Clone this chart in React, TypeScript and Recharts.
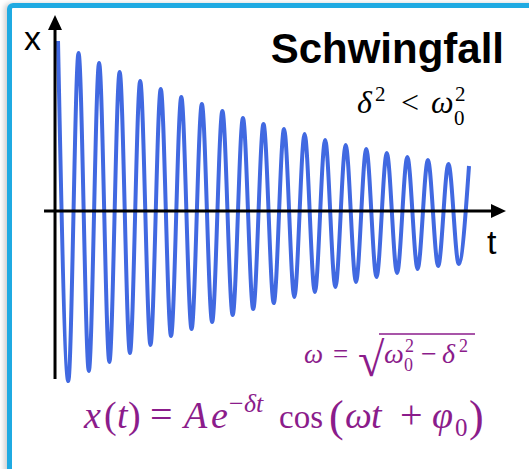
import React from "react";
import { LineChart, Line, XAxis, YAxis, ReferenceLine } from "recharts";

// extrema of the damped oscillation, one value per half period
const peaks = [170, 158, 148, 139, 130, 122, 114, 107, 100, 93, 87, 82, 77, 71, 66, 62, 58, 54, 51, 47, 45];
const troughs = [-170, -160, -151, -142, -134, -125, -118, -111, -104, -98, -92, -86, -81, -76, -71, -66, -62, -58, -55, -53];

const axisTitles = ["x", "t"];
const title = "Schwingfall";

const data = peaks
  .flatMap((p, i) => (i < troughs.length ? [p, troughs[i]] : [p]))
  .map((x, t) => ({ t, x }));

const PURPLE = "#8B1C8B";
const SERIF = "'Liberation Serif', 'Times New Roman', serif";
const SANS = "'Liberation Sans', Arial, sans-serif";

export default function App() {
  return (
    <div
      style={{
        position: "absolute",
        left: 0,
        top: 0,
        width: 529,
        height: 469,
        background: "#fff",
        overflow: "hidden",
      }}
    >
      <div
        style={{
          position: "absolute",
          left: 7,
          top: 3,
          width: 560,
          height: 500,
          border: "5px solid #1FAAE2",
          borderRadius: 6,
          boxShadow: "-3px 0 5px rgba(0,0,0,0.18)",
          boxSizing: "border-box",
        }}
      />
      <div style={{ position: "absolute", left: 0, top: 0 }}>
        <LineChart
          width={529}
          height={469}
          data={data}
          margin={{ top: 31, right: 60, bottom: 78, left: 58 }}
        >
          <defs>
            <marker
              id="arrowHead"
              markerWidth={15}
              markerHeight={14}
              refX={0}
              refY={7}
              orient="auto"
              markerUnits="userSpaceOnUse"
            >
              <path d="M0,0 L15,7 L0,14 Z" fill="#000" />
            </marker>
          </defs>
          <XAxis dataKey="t" type="number" domain={[0, 40]} hide />
          <YAxis domain={[-180, 180]} hide />
          <Line
            dataKey="x"
            type="monotone"
            stroke="#4169E1"
            strokeWidth={4}
            dot={false}
            activeDot={false}
            isAnimationActive={false}
          />
          <ReferenceLine
            segment={[
              { x: -1.36, y: 0 },
              { x: 42.14, y: 0 },
            ]}
            ifOverflow="visible"
            stroke="#000"
            strokeWidth={3}
            markerEnd="url(#arrowHead)"
          />
          <ReferenceLine
            segment={[
              { x: -0.29, y: -168 },
              { x: -0.29, y: 181 },
            ]}
            ifOverflow="visible"
            stroke="#000"
            strokeWidth={3}
            markerEnd="url(#arrowHead)"
          />

          <text x={24} y={50} fontFamily={SANS} fontSize={34} fill="#000">
            {axisTitles[0]}
          </text>
          <text x={487} y={254} fontFamily={SANS} fontSize={34} fill="#000">
            {axisTitles[1]}
          </text>
          <text
            x={504}
            y={63}
            textAnchor="end"
            fontFamily={SANS}
            fontWeight="bold"
            fontSize={42}
            fill="#000"
          >
            {title}
          </text>

          {/* δ² < ω₀² */}
          <text y={113} fontFamily={SERIF} fontSize={32} fill="#000">
            <tspan x={357} fontStyle="italic">δ</tspan>
            <tspan x={375} y={101} fontSize={21}>2</tspan>
            <tspan x={401} y={113}>&lt;</tspan>
            <tspan x={431} fontStyle="italic">ω</tspan>
            <tspan x={455} y={101} fontSize={21}>2</tspan>
            <tspan x={454} y={125} fontSize={21}>0</tspan>
          </text>

          {/* ω = √(ω₀² − δ²) */}
          <text y={363} fontFamily={SERIF} fontSize={27} fill={PURPLE}>
            <tspan x={304} fontStyle="italic">ω</tspan>
            <tspan x={333}>=</tspan>
          </text>
          <text x={358} y={376} fontFamily={SERIF} fontSize={48} fill={PURPLE}>
            √
          </text>
          <line x1={379} y1={334} x2={475} y2={334} stroke={PURPLE} strokeWidth={1.5} />
          <text y={363} fontFamily={SERIF} fontSize={28} fill={PURPLE}>
            <tspan x={384} fontStyle="italic">ω</tspan>
            <tspan x={405} y={352} fontSize={18}>2</tspan>
            <tspan x={404} y={371} fontSize={18}>0</tspan>
            <tspan x={421} y={363}>−</tspan>
            <tspan x={442} fontStyle="italic">δ</tspan>
            <tspan x={459} y={352} fontSize={18}>2</tspan>
          </text>

          {/* x(t) = A e^{−δt} cos(ωt + φ₀) */}
          <text y={428} fontFamily={SERIF} fontSize={38} fill={PURPLE}>
            <tspan x={84} fontStyle="italic">x</tspan>
            <tspan x={104}>(</tspan>
            <tspan x={117} fontStyle="italic">t</tspan>
            <tspan x={128}>)</tspan>
            <tspan x={150} fontSize={40}>=</tspan>
            <tspan x={184} fontStyle="italic">A</tspan>
            <tspan x={211} fontStyle="italic">e</tspan>
            <tspan x={229} y={412} fontSize={26}>−</tspan>
            <tspan x={244} y={412} fontSize={26} fontStyle="italic">δt</tspan>
            <tspan x={279} y={428} fontSize={33}>cos</tspan>
            <tspan x={329} y={431} fontSize={44}>(</tspan>
            <tspan x={345} y={428} fontStyle="italic">ω</tspan>
            <tspan x={371} fontStyle="italic">t</tspan>
            <tspan x={400} fontSize={40}>+</tspan>
            <tspan x={432} fontStyle="italic">φ</tspan>
            <tspan x={455} y={436} fontSize={25}>0</tspan>
            <tspan x={469} y={431} fontSize={44}>)</tspan>
          </text>
        </LineChart>
      </div>
    </div>
  );
}
